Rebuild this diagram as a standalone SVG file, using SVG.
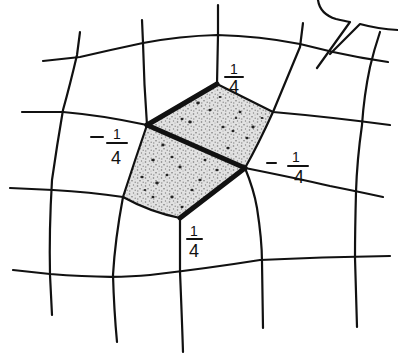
<svg xmlns="http://www.w3.org/2000/svg" width="398" height="355" viewBox="0 0 398 355">
<style>
.ln{fill:none;stroke:#111;stroke-width:2.2;stroke-linecap:round;stroke-linejoin:round}
.thick{fill:none;stroke:#111;stroke-width:5;stroke-linecap:round;stroke-linejoin:round}
.lbl{font-family:"Liberation Sans",Arial,sans-serif;fill:#111;text-anchor:middle}
.one{font-size:14px}
.four{font-size:18px}
.bar{stroke:#111;stroke-width:2;stroke-linecap:round}
.fleck{fill:#222}
</style>
<defs>
<pattern id="stip" width="8" height="8" patternUnits="userSpaceOnUse">
<rect width="8" height="8" fill="#e2e2e2"/>
<circle cx="1.5" cy="2" r="0.8" fill="#777"/>
<circle cx="5.5" cy="1" r="0.7" fill="#888"/>
<circle cx="4" cy="4.8" r="0.8" fill="#777"/>
<circle cx="7.2" cy="6.2" r="0.7" fill="#888"/>
<circle cx="1.8" cy="7" r="0.7" fill="#888"/>
<circle cx="7" cy="3" r="0.5" fill="#999"/>
</pattern>
</defs>
<rect width="398" height="355" fill="#fff"/>

<g id="shaded">
<path d="M147,125 L217,84 L245,98 L273,112 L258,145 L245,168 L180,218 L150,210 L123,197 L135,160 Z" fill="url(#stip)"/>
<g class="fleck">
<ellipse cx="198" cy="103" rx="1.8" ry="1.4"/><ellipse cx="210" cy="110" rx="1.7" ry="1.3"/>
<ellipse cx="190" cy="122" rx="1.8" ry="1.4"/><ellipse cx="182" cy="119" rx="1.5" ry="1.2"/>
<ellipse cx="223" cy="127" rx="1.7" ry="1.3"/><ellipse cx="233" cy="131" rx="1.5" ry="1.2"/>
<ellipse cx="253" cy="127" rx="1.7" ry="1.4"/><ellipse cx="247" cy="138" rx="1.6" ry="1.3"/>
<ellipse cx="228" cy="148" rx="1.7" ry="1.3"/><ellipse cx="240" cy="112" rx="1.5" ry="1.2"/>
<ellipse cx="163" cy="145" rx="1.7" ry="1.4"/><ellipse cx="153" cy="160" rx="1.8" ry="1.3"/>
<ellipse cx="172" cy="157" rx="1.6" ry="1.3"/><ellipse cx="180" cy="167" rx="1.7" ry="1.4"/>
<ellipse cx="142" cy="177" rx="1.7" ry="1.3"/><ellipse cx="157" cy="183" rx="1.8" ry="1.4"/>
<ellipse cx="167" cy="175" rx="1.5" ry="1.2"/><ellipse cx="200" cy="180" rx="1.7" ry="1.3"/>
<ellipse cx="172" cy="197" rx="1.7" ry="1.4"/><ellipse cx="153" cy="197" rx="1.5" ry="1.2"/>
<ellipse cx="192" cy="190" rx="1.6" ry="1.3"/><ellipse cx="217" cy="170" rx="1.7" ry="1.3"/>
<ellipse cx="182" cy="207" rx="1.5" ry="1.2"/><ellipse cx="205" cy="160" rx="1.5" ry="1.2"/>
<ellipse cx="220" cy="97" rx="1.4" ry="1.1"/><ellipse cx="262" cy="118" rx="1.4" ry="1.1"/>
<ellipse cx="236" cy="118" rx="1.3" ry="1.1"/><ellipse cx="145" cy="190" rx="1.3" ry="1.1"/>
</g>
</g>

<g id="grid">
<path class="ln" d="M43,61 L80,57 Q110,50 143,43 Q180,36 217,35 Q260,36 300,44 L333,52 Q360,58 388,62"/>
<path class="ln" d="M80,32 L77,55 Q70,85 63,110 Q57,145 52,180 Q49,230 50,275 L52,315"/>
<path class="ln" d="M142,20 L143,43 Q144,85 147,125"/>
<path class="ln" d="M147,125 Q135,160 123,197 Q115,240 113,275 Q114,310 117,342"/>
<path class="ln" d="M218,5 L218,35 L217,84"/>
<path class="ln" d="M180,218 Q180,250 180,272 Q182,320 183,352"/>
<path class="ln" d="M303,23 L300,47 Q287,78 273,112 Q258,145 245,168 Q254,190 257,208 Q262,240 262,262 L263,328"/>
<path class="ln" d="M380,32 Q374,50 370,67 Q364,95 362,125 Q357,160 356,192 Q355,230 355,258 L357,327"/>
<path class="ln" d="M22,112 L63,112 Q100,115 147,125"/>
<path class="ln" d="M217,84 L273,112 Q330,117 390,125"/>
<path class="ln" d="M10,188 L53,190 Q90,192 123,197 Q150,212 180,218"/>
<path class="ln" d="M245,168 Q300,179 330,186 Q360,192 383,197"/>
<path class="ln" d="M13,270 L50,274 Q110,279 150,275 Q210,268 260,260 Q320,257 390,256"/>
</g>

<g id="thick-edges">
<path class="thick" d="M147,125 L217,84"/>
<path class="thick" d="M147,125 L245,168"/>
<path class="thick" d="M245,168 L180,218"/>
</g>

<g id="bubble">
<path class="ln" d="M318,0 Q320,14 336,19 Q345,21 350,22 L317,68"/>
<path class="ln" d="M330,54 L360,24 Q378,29 398,30"/>
</g>

<g id="labels">
<text class="lbl one" x="234" y="74">1</text>
<line class="bar" x1="225" y1="77" x2="243" y2="77"/>
<text class="lbl four" x="234" y="93">4</text>

<line class="bar" x1="91" y1="137" x2="103" y2="137"/>
<text class="lbl one" x="117" y="139">1</text>
<line class="bar" x1="107" y1="143" x2="127" y2="143"/>
<text class="lbl four" x="116" y="164">4</text>

<line class="bar" x1="267" y1="163" x2="276" y2="163"/>
<text class="lbl one" x="296" y="162">1</text>
<line class="bar" x1="288" y1="166" x2="308" y2="166"/>
<text class="lbl four" x="299" y="183">4</text>

<text class="lbl one" x="194" y="236">1</text>
<line class="bar" x1="187" y1="239" x2="202" y2="239"/>
<text class="lbl four" x="194" y="257">4</text>
</g>
</svg>
